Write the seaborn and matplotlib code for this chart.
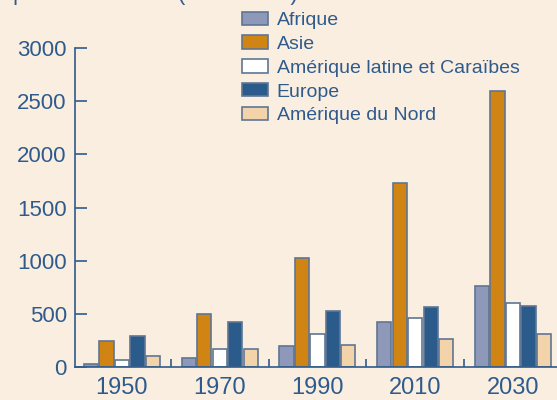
import pandas as pd
import matplotlib
matplotlib.use("Agg")
import matplotlib.pyplot as plt
import seaborn as sns

# population urbaine par region (millions)
annees = ["1950", "1970", "1990", "2010", "2030"]
regions = ["Afrique", "Asie", "Amérique latine et Caraïbes", "Europe", "Amérique du Nord"]
afrique = [30, 84, 197, 427, 765]
asie = [247, 502, 1027, 1728, 2600]
amerique_latine = [68, 165, 312, 465, 603]
europe = [287, 425, 525, 562, 572]
amerique_nord = [106, 172, 209, 262, 312]

couleurs = ["#8E99B9", "#CF8414", "#FFFFFF", "#2B5B8B", "#F2D3AA"]
fond = "#FAEEE1"
bleu = "#2F5B8C"

rows = []
for reg, vals in zip(regions, [afrique, asie, amerique_latine, europe, amerique_nord]):
    for a, v in zip(annees, vals):
        rows.append({"annee": a, "region": reg, "pop": v})
df = pd.DataFrame(rows)

sns.set_style("ticks")
plt.rcParams["font.family"] = ["Liberation Sans", "DejaVu Sans"]

fig = plt.figure(figsize=(5.57, 4.0), dpi=100, facecolor=fond)
ax = fig.add_axes([0.1347, 0.0825, 0.8653, 0.7975])
ax.set_facecolor(fond)

sns.barplot(data=df, x="annee", y="pop", hue="region", hue_order=regions,
            palette=couleurs, saturation=1, width=0.79, gap=0.08,
            edgecolor="#5F7693", linewidth=1.2, ax=ax)

ax.set_ylim(0, 3000)
ax.set_xlim(-0.48, 4.45)
ax.set_yticks([0, 500, 1000, 1500, 2000, 2500, 3000])
ax.set_xlabel("")
ax.set_ylabel("")

for s in ["top", "right"]:
    ax.spines[s].set_visible(False)
for s in ["left", "bottom"]:
    ax.spines[s].set_color(bleu)
    ax.spines[s].set_linewidth(1.2)

ax.tick_params(axis="y", direction="in", length=8.5, width=1.2, color=bleu,
               labelcolor=bleu, labelsize=16, pad=6)
ax.tick_params(axis="x", which="major", length=0, labelcolor=bleu,
               labelsize=17, pad=7)
ax.set_xticks([0.5, 1.5, 2.5, 3.5], minor=True)
ax.tick_params(axis="x", which="minor", direction="in", length=6, width=1.2,
               color=bleu)

handles, labels = ax.get_legend_handles_labels()
ax.legend(handles, labels, loc="upper left", bbox_to_anchor=(0.434, 0.971),
          bbox_transform=fig.transFigure, frameon=False, fontsize=14,
          labelcolor=bleu, handlelength=1.35, handleheight=0.67,
          handletextpad=0.45, labelspacing=0.33, borderpad=0, borderaxespad=0)

# titre coupe en haut de l'image
fig.text(-14 / 557, 1.0, "Population urbaine (en millions)", fontsize=16,
         color=bleu, va="baseline", ha="left")

fig.savefig("out.png", dpi=100, facecolor=fond)
